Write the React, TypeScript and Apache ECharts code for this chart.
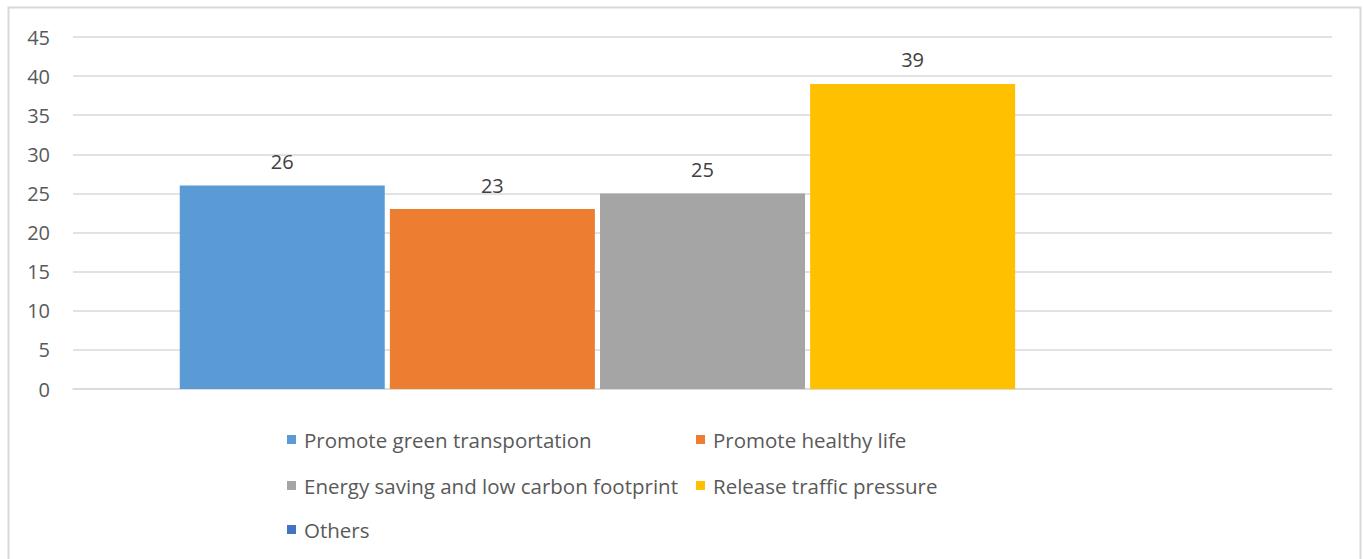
import React, { useEffect, useRef } from "react";
import * as echarts from "echarts";

const categories = ["Reason"];
const seriesNames = [
  "Promote green transportation",
  "Promote healthy life",
  "Energy saving and low carbon footprint",
  "Release traffic pressure",
  "Others",
];
const seriesValues: (number | null)[] = [26, 23, 25, 39, null];
const seriesColors = ["#5B9BD5", "#ED7D31", "#A5A5A5", "#FFC000", "#4472C4"];
const yTicks = { min: 0, max: 45, interval: 5 };

const FONT = "Open Sans";

export default function App() {
  const ref = useRef<HTMLDivElement>(null);
  useEffect(() => {
    if (!ref.current) return;
    const chart = echarts.init(ref.current, null, { renderer: "svg" });
    const legendPos = [
      { left: 287, top: 429 },
      { left: 696, top: 429 },
      { left: 287, top: 475 },
      { left: 696, top: 475 },
      { left: 287, top: 519 },
    ];
    chart.setOption({
      animation: false,
      backgroundColor: "#ffffff",
      graphic: [
        {
          type: "rect",
          shape: { x: 8.5, y: 7.5, width: 1352, height: 570 },
          style: { fill: "none", stroke: "#d9d9d9", lineWidth: 2 },
          silent: true,
        },
      ],
      legend: seriesNames.map((name, i) => ({
        data: [name],
        left: legendPos[i].left,
        top: legendPos[i].top,
        padding: 0,
        icon: "rect",
        itemWidth: 9,
        itemHeight: 9,
        selectedMode: false,
        textStyle: {
          fontFamily: FONT,
          fontSize: 20.5,
          color: "#595959",
          padding: [0, 0, 0, 3],
        },
      })),
      grid: { left: 73, right: 32, top: 37, bottom: 170, containLabel: false },
      xAxis: {
        type: "category",
        data: categories,
        axisLine: { show: true, lineStyle: { color: "#d9d9d9", width: 1.5 } },
        axisTick: { show: false },
        axisLabel: { show: false },
      },
      yAxis: {
        type: "value",
        min: yTicks.min,
        max: yTicks.max,
        interval: yTicks.interval,
        axisLine: { show: false },
        axisTick: { show: false },
        splitLine: { lineStyle: { color: "#d9d9d9", width: 1.5 } },
        axisLabel: {
          fontFamily: FONT,
          fontSize: 20,
          color: "#595959",
          margin: 23,
        },
      },
      series: seriesNames.map((name, i) => ({
        name,
        type: "bar",
        data: [seriesValues[i]],
        barWidth: 205,
        barGap: "2.5%",
        itemStyle: { color: seriesColors[i] },
        label: {
          show: true,
          position: "top",
          distance: 14,
          fontFamily: FONT,
          fontSize: 20,
          color: "#404040",
        },
      })),
    });
    return () => chart.dispose();
  }, []);
  return (
    <div
      ref={ref}
      style={{ position: "fixed", left: 0, top: 0, width: 1364, height: 559 }}
    />
  );
}
